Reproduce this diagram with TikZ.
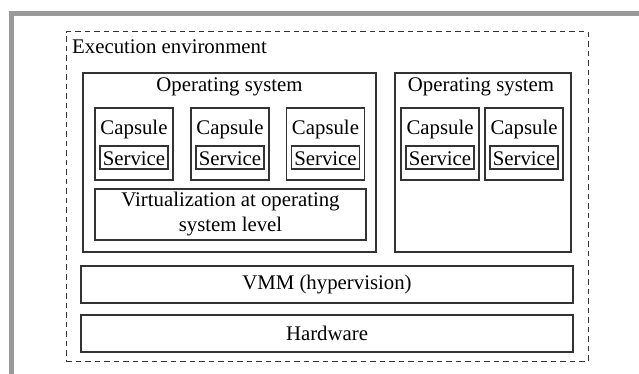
\documentclass[tikz,border=0pt]{standalone}
\usepackage{fontspec}
\setmainfont{Liberation Serif}
\tikzset{
  caixa/.style={draw=black!80, line width=1.2pt, inner sep=0pt, rectangle},
  rotulo/.style={inner sep=0pt, text=black, font=\fontsize{20.8}{25}\selectfont},
}

\begin{document}
\begin{tikzpicture}[x=1pt, y=-1pt]
    \useasboundingbox (0,0) rectangle (639,374);

    % Moldura cinza
    \draw[line width=4.7pt, black!40] (11.3,374) -- (11.3,13.3) -- (639,13.3);

    % Ambiente de execucao
    \node[caixa, dashed, dash pattern=on 5.5pt off 4pt, line width=1pt, minimum width=522pt, minimum height=329pt] (ambiente) at (327,196.5) {};
    \node[rotulo, anchor=base west] (ambienteTxt) at (72,54) {Execution environment};

    % Sistemas operacionais
    \node[caixa, minimum width=293pt, minimum height=179pt] (so1) at (229.5,162.5) {};
    \node[rotulo, anchor=base] (so1Txt) at (229.5,92) {Operating system};
    \node[caixa, minimum width=176pt, minimum height=179pt] (so2) at (483,162.5) {};
    \node[rotulo, anchor=base] (so2Txt) at (481,92) {Operating system};

    % Capsulas e servicos
    \foreach \x [count=\i] in {134,230,325.5,440,524} {
        \node[caixa, minimum width=78pt, minimum height=72pt] (capsula\i) at (\x,144) {};
        \node[rotulo, anchor=base] (capsula\i Txt) at (\x,135) {Capsule};
        \node[caixa, minimum width=68pt, minimum height=23pt] (servico\i) at (\x,157.5) {};
        \node[rotulo, anchor=base] (servico\i Txt) at (\x,165.5) {Service};
    }

    % Camadas
    \node[caixa, rotulo, align=center, minimum width=271pt, minimum height=51pt] (virtualizacao) at (230.5,214.5) {Virtualization at operating\\system level};
    \node[caixa, rotulo, minimum width=492pt, minimum height=37pt] (vmm) at (327,284.5) {VMM (hypervision)};
    \node[caixa, rotulo, minimum width=492pt, minimum height=37pt] (hardware) at (327,333.5) {Hardware};
\end{tikzpicture}
\end{document}
